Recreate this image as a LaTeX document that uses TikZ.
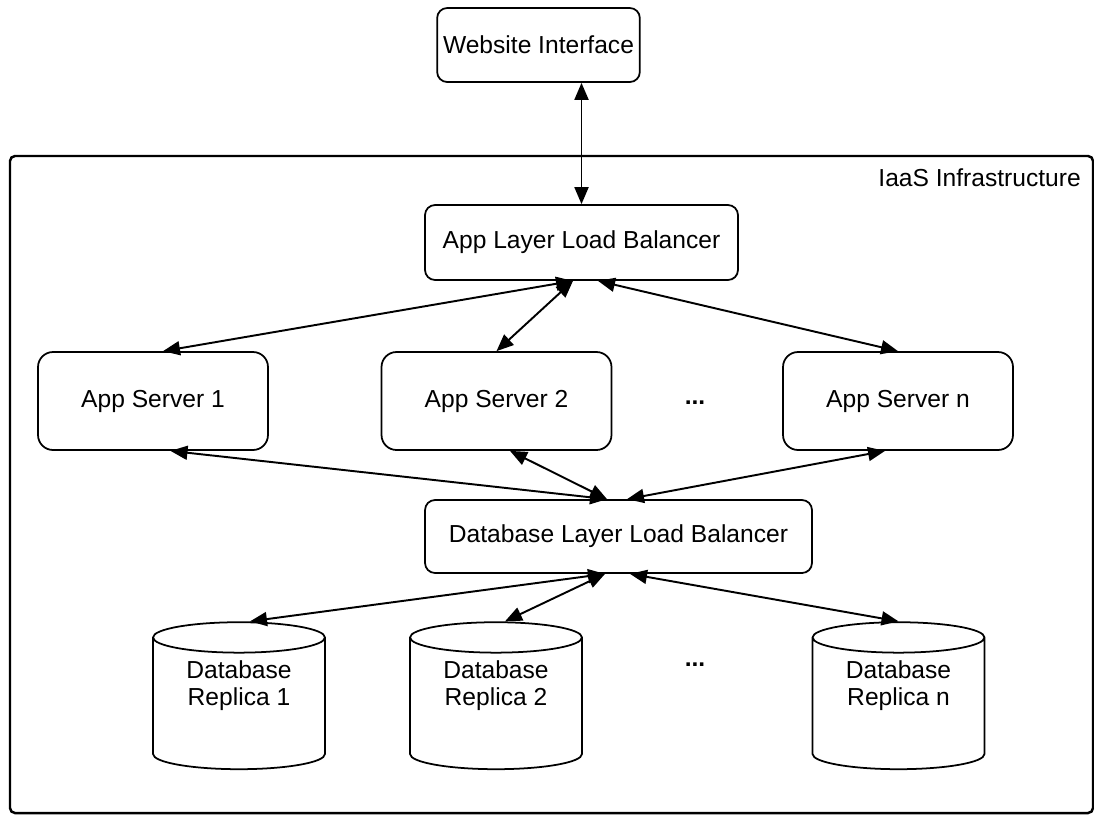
\documentclass[tikz,border=0pt]{standalone}
\usepackage{fontspec}
\setmainfont{Liberation Sans}
\usetikzlibrary{arrows.meta,shapes.geometric}

\tikzset{
  txt/.style={font=\fontsize{14}{15.5}\selectfont},
  box/.style={txt,draw=black,line width=1pt,fill=white,rounded corners=0.2cm,align=center},
  server/.style={box,rounded corners=0.3cm,minimum width=4.6cm,minimum height=1.96cm},
  replica/.style={draw=black,line width=1pt,cylinder,shape border rotate=90,aspect=0.25,
    text width=2.2cm,minimum width=3.44cm,minimum height=2.94cm,
    label={[txt,align=center,yshift=0.41cm]center:#1}},
  link/.style={line width=1.1pt,{Triangle[length=0.34cm,width=0.28cm]}-{Triangle[length=0.34cm,width=0.28cm]}},
}

\begin{document}
\begin{tikzpicture}[x=0.02cm,y=-0.02cm]
    \useasboundingbox (0,0) rectangle (1094,816);
    % infrastructure frame
    \draw[line width=1.4pt,rounded corners=0.1cm] (10,156) rectangle (1093,813);
    \node[txt,anchor=east] (iaas) at (1087,178) {IaaS Infrastructure};

    \node[box,minimum width=3.94cm,minimum height=1.48cm] (web) at (538.5,45) {Website Interface};
    \node[box,minimum width=6.26cm,minimum height=1.5cm] (alb) at (581.5,242.5) {App Layer Load Balancer};

    \node[server] (as1) at (153,401) {App Server 1};
    \node[server] (as2) at (496.5,401) {App Server 2};
    \node[server] (asn) at (898,401) {App Server n};
    \node[txt] (dots1) at (695,403) {\textbf{...}};

    \node[box,minimum width=7.74cm,minimum height=1.46cm] (dlb) at (618.5,536.5) {Database Layer Load Balancer};

    \node[replica={Database\\Replica 1}] (r1) at (239,706.5) {};
    \node[replica={Database\\Replica 2}] (r2) at (496,706.5) {};
    \node[replica={Database\\Replica n}] (rn) at (898.5,706.5) {};
    \node[txt] (dots2) at (695,665) {\textbf{...}};

    \draw[link] (web.south -| alb.north) -- (alb.north);

    \draw[link] ([xshift=-0.17cm]alb.south) -- ([xshift=0.2cm]as1.north);
    \draw[link] ([xshift=-0.17cm]alb.south) -- (as2.north);
    \draw[link] ([xshift=0.33cm]alb.south) -- (asn.north);

    \draw[link] ([xshift=0.35cm]as1.south) -- ([xshift=-0.23cm]dlb.north);
    \draw[link] ([xshift=0.27cm]as2.south) -- ([xshift=-0.23cm]dlb.north);
    \draw[link] ([xshift=-0.26cm]asn.south) -- ([xshift=0.17cm]dlb.north);

    \draw[link] ([xshift=-0.27cm]dlb.south) -- ([xshift=0.22cm]r1.north);
    \draw[link] ([xshift=-0.27cm]dlb.south) -- ([xshift=0.18cm]r2.north);
    \draw[link] ([xshift=0.23cm]dlb.south) -- (rn.north);
\end{tikzpicture}
\end{document}
